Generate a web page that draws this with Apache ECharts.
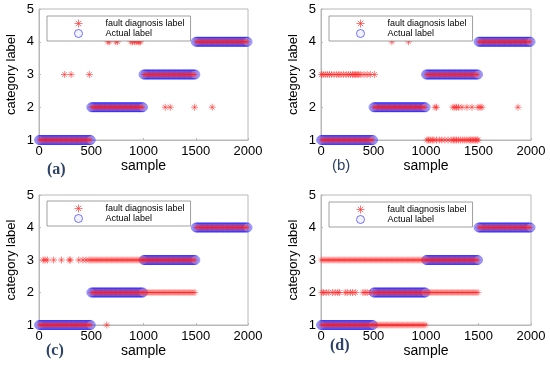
<!DOCTYPE html>
<html><head><meta charset="utf-8">
<script src="https://cdn.jsdelivr.net/npm/echarts@6/dist/echarts.min.js"></script>
<style>html,body{margin:0;padding:0;background:#fff}#c{width:550px;height:366px}</style>
</head><body><div id="c"></div>
<script>
// ---- data ----
const xTicks = [0, 500, 1000, 1500, 2000];
const yTicks = [1, 2, 3, 4, 5];
const panelLabels = ['(a)', '(b)', '(c)', '(d)'];
const legendNames = ['fault diagnosis label', 'Actual label'];

// actual label: class for each sample range
const actualStart = [0, 500, 1000, 1500];
const actualEnd   = [500, 1000, 1500, 2000];
const actualClass = [1, 2, 3, 4];

// fault diagnosis label: dense runs [start, end, class] + isolated points
const faultRunsA = [[0,500,1],[500,1000,2],[1000,1500,3],[1500,2000,4]];
const faultPtsAx = [660,672,735,752,880,895,915,930,950,960,970, 243,307,482, 1208,1256,1489,1658];
const faultPtsAy = [4,4,4,4,4,4,4,4,4,4,4, 3,3,3, 2,2,2,2];

const faultRunsB = [[0,500,1],[500,1000,2],[1000,1500,3],[1500,2000,4]];
const faultPtsBx = [5,20,40,60,80,100,125,150,170,190,215,240,260,280,300,315,330,345,360,380,410,440,470,510,
                    1010,1025,1040,1060,1075,1100,1130,1150,1180,1210,1240,1260,1275,1290,1310,1330,1350,1370,1390,1410,1425,1440,1455,1470,1485,1495,
                    1086,1100,1257,1275,1290,1310,1343,1390,1438,1495,1515,1533,1876,
                    675,834];
const faultPtsBy = [3,3,3,3,3,3,3,3,3,3,3,3,3,3,3,3,3,3,3,3,3,3,3,3,
                    1,1,1,1,1,1,1,1,1,1,1,1,1,1,1,1,1,1,1,1,1,1,1,1,1,1,
                    2,2,2,2,2,2,2,2,2,2,2,2,2,
                    4,4];

const faultRunsC = [[0,500,1],[500,1000,2],[470,1000,3],[1000,1500,3],[1000,1500,2],[1500,2000,4]];
const faultPtsCx = [40,58,80,140,215,290,300,380,420,450, 648];
const faultPtsCy = [3,3,3,3,3,3,3,3,3,3, 1];

const faultRunsD = [[0,1000,1],[0,1500,3],[500,1500,2],[1500,2000,4]];
const faultPtsDx = [10,25,50,75,110,135,160,175,230,250,280,300,330,400,420,440,470];
const faultPtsDy = [2,2,2,2,2,2,2,2,2,2,2,2,2,2,2,2,2];

const panels = [
  {runs: faultRunsA, px: faultPtsAx, py: faultPtsAy},
  {runs: faultRunsB, px: faultPtsBx, py: faultPtsBy},
  {runs: faultRunsC, px: faultPtsCx, py: faultPtsCy},
  {runs: faultRunsD, px: faultPtsDx, py: faultPtsDy}
];

// ---- layout ----
const grids = [
  {left: 39, top: 9, width: 209, height: 131},
  {left: 321, top: 9, width: 210, height: 131},
  {left: 39, top: 195, width: 209, height: 130},
  {left: 321, top: 195, width: 210, height: 130}
];
const legendPos = [[47,16],[329,16],[47,201],[329,202]];
const labelPos = [[57,172,'serif'],[342,168,'sans'],[56,353,'serif'],[340,348,'serif']];
const STEP = 8;

function expandRuns(runs) {
  const out = [];
  runs.forEach(r => { for (let s = r[0]; s <= r[1]; s += STEP) out.push([s, r[2]]); });
  return out;
}
function actualPoints() {
  const out = [];
  for (let k = 0; k < actualClass.length; k++)
    for (let s = actualStart[k]; s <= actualEnd[k]; s += STEP) out.push([s, actualClass[k]]);
  return out;
}

const star = 'path://M5,0L5,10M0,5L10,5M1.6,1.6L8.4,8.4M1.6,8.4L8.4,1.6';
const font = '"Liberation Sans", Arial, sans-serif';
const blueStyle = {color: 'rgba(150,150,255,0.15)', borderColor: 'rgba(30,30,255,0.5)', borderWidth: 1};
const redStyle = {color: 'rgba(255,0,0,0)', borderColor: 'rgba(255,30,30,0.26)', borderWidth: 1};
const redSparse = {color: 'rgba(255,0,0,0)', borderColor: 'rgba(255,40,40,0.7)', borderWidth: 1};

const option = {
  animation: false,
  grid: grids.map(g => Object.assign({show: true, borderColor: '#b8b8b8', borderWidth: 1, backgroundColor: '#fff'}, g)),
  xAxis: grids.map((g, i) => ({
    gridIndex: i, type: 'value', min: xTicks[0], max: xTicks[xTicks.length-1], interval: 500,
    name: 'sample', nameLocation: 'middle', nameGap: 18,
    nameTextStyle: {fontFamily: font, fontSize: 14, color: '#000'},
    axisLine: {lineStyle: {color: '#b8b8b8'}},
    axisTick: {inside: true, length: 2, lineStyle: {color: '#b8b8b8'}},
    axisLabel: {fontFamily: font, fontSize: 13, color: '#000', margin: 5, formatter: v => String(v)},
    splitLine: {show: false}
  })),
  yAxis: grids.map((g, i) => ({
    gridIndex: i, type: 'value', min: yTicks[0], max: yTicks[yTicks.length-1], interval: 1,
    name: 'category label', nameLocation: 'middle', nameGap: 21,
    nameTextStyle: {fontFamily: font, fontSize: 13, color: '#000'},
    axisLine: {lineStyle: {color: '#b8b8b8'}},
    axisTick: {inside: true, length: 2, lineStyle: {color: '#b8b8b8'}},
    axisLabel: {fontFamily: font, fontSize: 13, color: '#000', margin: 5, formatter: v => String(v)},
    splitLine: {show: false}
  })),
  legend: legendPos.map(p => ({
    left: p[0], top: p[1], orient: 'vertical',
    data: [
      {name: legendNames[0], icon: star, itemStyle: {color: 'rgba(255,0,0,0)', borderColor: 'rgba(255,40,40,0.8)', borderWidth: 1}},
      {name: legendNames[1], icon: 'circle', itemStyle: {color: 'rgba(150,150,255,0.15)', borderColor: 'rgba(40,40,255,0.8)', borderWidth: 1}}
    ],
    itemWidth: 10, itemHeight: 8, itemGap: 1,
    padding: [3, 6, 3, 27],
    borderColor: '#888', borderWidth: 0.8, borderRadius: 0, backgroundColor: '#fff',
    textStyle: {fontFamily: font, fontSize: 9, color: '#000', padding: [0, 0, 0, 17], lineHeight: 9}
  })),
  graphic: labelPos.map((p, i) => ({
    type: 'text', left: p[0] - 10, top: p[1] - 10,
    style: {text: panelLabels[i], fill: '#2e4266',
      font: (p[2] === 'serif' ? 'bold 16px "Liberation Serif", "DejaVu Serif", serif' : '15px "Liberation Sans", Arial, sans-serif')}
  })),
  series: []
};

panels.forEach((p, i) => {
  option.series.push({
    type: 'scatter', name: 'Actual label', xAxisIndex: i, yAxisIndex: i, z: 2,
    symbol: 'circle', symbolSize: 9,
    itemStyle: blueStyle,
    data: actualPoints()
  });
  const fd = expandRuns(p.runs);
  p.px.forEach((x, k) => fd.push({value: [x, p.py[k]], itemStyle: redSparse}));
  option.series.push({
    type: 'scatter', name: 'fault diagnosis label', xAxisIndex: i, yAxisIndex: i, z: 3,
    symbol: star, symbolSize: 7,
    itemStyle: redStyle,
    data: fd
  });
});

const chart = echarts.init(document.getElementById('c'), null, {renderer: 'canvas'});
chart.setOption(option);
</script></body></html>
